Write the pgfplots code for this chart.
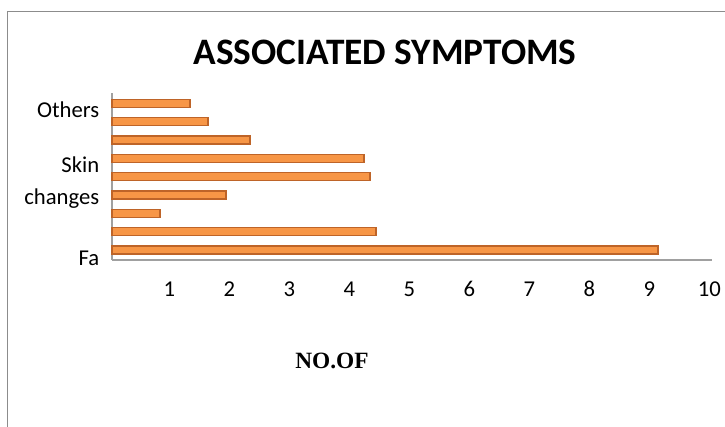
\documentclass[border=0pt]{standalone}
\usepackage{pgfplots}
\pgfplotsset{compat=1.18}
\usepackage{fontspec}
\setmainfont{Carlito}
\newfontfamily\serifbf{Liberation Serif}

\definecolor{barfill}{RGB}{247,150,70}
\definecolor{barline}{RGB}{190,100,40}
\definecolor{framegray}{RGB}{140,140,140}
\definecolor{axisgray}{RGB}{160,160,160}

\begin{document}
\begin{tikzpicture}[x=0.75pt,y=0.75pt]
\path[use as bounding box] (0,0) rectangle (725,427);
% outer chart frame (left and top edges only are visible)
\draw[framegray,line width=1.2pt] (7.5,0) -- (7.5,415.5) -- (725,415.5);

\begin{axis}[
	at={(84pt,125.25pt)}, anchor=south west,
	scale only axis,
	width=450pt, height=125.25pt,
	xmin=0, xmax=10,
	ymin=-0.55, ymax=8.56,
	axis x line*=bottom, axis y line*=left,
	axis line style={axisgray, line width=0.9pt, -},
	major tick length=0pt,
	xtick={1,...,10},
	ytick={-0.44,2.78,4.64,7.64},
	yticklabels={Fa,changes,Skin,Others},
	/pgf/number format/assume math mode=true,
	tick label style={font=\fontsize{17}{20}\selectfont},
	xticklabel style={anchor=base, yshift=-27.5pt, xshift=-2pt},
	yticklabel style={anchor=east, xshift=-6pt},
	xbar, bar width=6pt, bar shift=0pt,
	clip=false,
	]
\addplot[fill=barfill, draw=barline, line width=1pt]
	coordinates {
		(9.1,0)
		(4.4,1)
		(0.8,2)
		(1.9,3)
		(4.3,4)
		(4.2,5)
		(2.3,6)
		(1.6,7)
		(1.3,8)
	};
\end{axis}

\node[font=\fontsize{28}{32}\selectfont\bfseries] at (385,375) {ASSOCIATED SYMPTOMS};
\node[font=\fontsize{17.5}{20}\selectfont\serifbf\bfseries] at (332,66) {NO.OF};
\end{tikzpicture}
\end{document}
